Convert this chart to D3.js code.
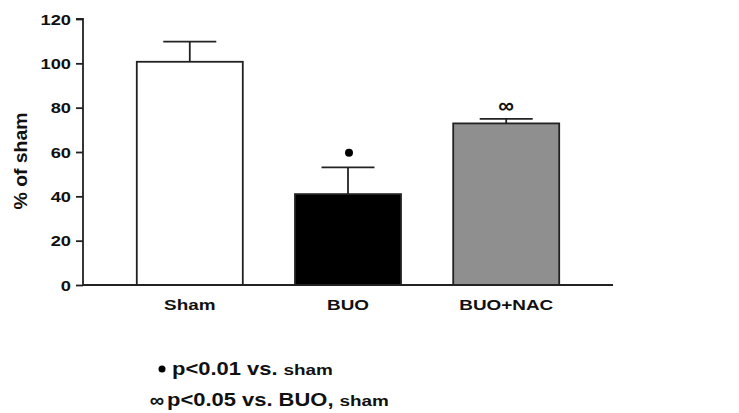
<!DOCTYPE html>
<html><head><meta charset="utf-8">
<script src="https://cdn.jsdelivr.net/npm/d3@7"></script>
<style>
html,body{margin:0;padding:0;background:#fff;}
text{font-family:"Liberation Sans",Arial,Helvetica,sans-serif;font-weight:bold;fill:#111;}
</style></head>
<body>
<svg id="chart" width="739" height="413"></svg>
<script>
const categories = ["Sham", "BUO", "BUO+NAC"];
const means = [100.7, 41.0, 72.9];
const errors = [9.1, 12.1, 2.0];
const markers = ["", "•", "∞"];
const markerValues = [null, 59.7, 81.2];
const fills = ["#ffffff", "#000000", "#8f8f8f"];
const yTicks = [0, 20, 40, 60, 80, 100, 120];
const yTitle = "% of sham";
const legendLines = [
  { sym: "•", main: "p<0.01 vs.", tail: "sham" },
  { sym: "∞", main: "p<0.05 vs. BUO,", tail: "sham" }
];

const SX = 1.22; // horizontal stretch of the original figure's type
const svg = d3.select("#chart");
const x0 = 83, x1 = 613, yBase = 285, yTop = 19;

const x = d3.scaleBand().domain(categories).range([x0, x1]).paddingInner(0.33).paddingOuter(0.34);
const y = d3.scaleLinear().domain([0, 120]).range([yBase, yTop]);

function stretchedText(g, tx, ty, str, size, anchor) {
  const t = g.append("g").attr("transform", `translate(${tx},${ty}) scale(${SX},1)`)
    .append("text").attr("x", 0).attr("y", 0)
    .style("font-size", size + "px").attr("text-anchor", anchor || "start").text(str);
  return t;
}

// bars
svg.append("g").selectAll("rect").data(categories).join("rect")
  .attr("x", d => x(d)).attr("width", x.bandwidth())
  .attr("y", (d, i) => y(means[i])).attr("height", (d, i) => y(0) - y(means[i]))
  .attr("fill", (d, i) => fills[i]).attr("stroke", "#222").attr("stroke-width", 1.8);

// error bars
const eb = svg.append("g").attr("stroke", "#222").attr("stroke-width", 1.8);
categories.forEach((c, i) => {
  const cx = x(c) + x.bandwidth() / 2;
  const capW = x.bandwidth() / 2;
  eb.append("line").attr("x1", cx).attr("x2", cx).attr("y1", y(means[i])).attr("y2", y(means[i] + errors[i]));
  eb.append("line").attr("x1", cx - capW / 2).attr("x2", cx + capW / 2)
    .attr("y1", y(means[i] + errors[i])).attr("y2", y(means[i] + errors[i]));
});

// significance markers
categories.forEach((c, i) => {
  if (!markers[i]) return;
  const cx = x(c) + x.bandwidth() / 2;
  if (markers[i] === "•") {
    svg.append("circle").attr("cx", cx + 1).attr("cy", y(markerValues[i])).attr("r", 4).attr("fill", "#000");
  } else {
    svg.append("text").attr("x", cx).attr("y", y(markerValues[i]))
      .attr("text-anchor", "middle").attr("dominant-baseline", "central")
      .style("font-size", "22px").text(markers[i]);
  }
});

// y axis
const yAxis = svg.append("g").attr("transform", `translate(${x0},0)`)
  .call(d3.axisLeft(y).tickValues(yTicks).tickSize(7).tickFormat(""));
yAxis.selectAll("path, line").attr("stroke", "#222").attr("stroke-width", 1.8);
yAxis.select("path").attr("d", `M-7,${y(120)}H0V${y(0)}`);
yTicks.forEach(v => {
  stretchedText(svg, 71, y(v) + 5.5, String(v), 15, "end");
});

// x axis
const xAxis = svg.append("g").attr("transform", `translate(0,${yBase})`)
  .call(d3.axisBottom(x).tickSize(0).tickFormat(""));
xAxis.select("path").attr("d", `M${x0},0H${x1}`).attr("stroke", "#222").attr("stroke-width", 1.8);
categories.forEach(c => {
  stretchedText(svg, x(c) + x.bandwidth() / 2, 310, c, 15.5, "middle");
});

// y title
svg.append("text").attr("transform", "translate(27,161) rotate(-90)")
  .attr("text-anchor", "middle").style("font-size", "18px")
  .attr("textLength", 97).attr("lengthAdjust", "spacingAndGlyphs").text(yTitle);

// legend
const leg = svg.append("g");
const rows = [{ y: 375, symX: 162, textX: 172 }, { y: 406, symX: 157, textX: 167 }];
legendLines.forEach((l, i) => {
  const r = rows[i];
  if (l.sym === "•") {
    leg.append("circle").attr("cx", r.symX).attr("cy", r.y - 6).attr("r", 3.5).attr("fill", "#000");
  } else {
    leg.append("text").attr("x", r.symX).attr("y", r.y - 6).attr("text-anchor", "middle")
      .attr("dominant-baseline", "central").style("font-size", "20px").text(l.sym);
  }
  const m = stretchedText(leg, r.textX, r.y, l.main, 18, "start");
  const w = m.node().getComputedTextLength() * SX;
  stretchedText(leg, r.textX + w + 6, r.y, l.tail, 15.5, "start");
});
</script>
</body></html>
